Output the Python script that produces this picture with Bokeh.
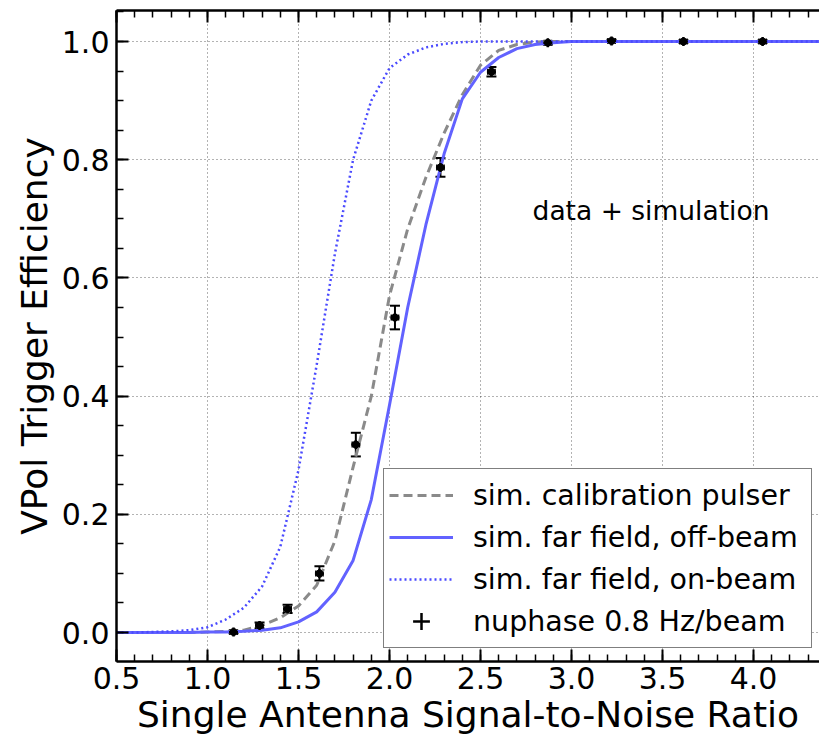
from bokeh.plotting import figure
from bokeh.models import (Range1d, SingleIntervalTicker, LinearAxis, PrintfTickFormatter,
                          Whisker, TeeHead, ColumnDataSource, Legend, LegendItem, Label,
                          CustomLabelingPolicy)
from bokeh.embed import file_html
from bokeh.resources import INLINE

# ---- data ----
snr_sim = [0.5, 0.6, 0.7, 0.8, 0.9, 1.0, 1.1, 1.2, 1.3, 1.4, 1.5, 1.6, 1.7, 1.8, 1.9,
           2.0, 2.1, 2.2, 2.3, 2.4, 2.5, 2.6, 2.7, 2.8, 2.9, 3.0, 3.2, 3.4, 3.6, 3.8,
           4.0, 4.2, 4.4]
calib_pulser = [0.0, 0.0, 0.0, 0.0, 0.0, 0.001, 0.002, 0.004, 0.012, 0.025, 0.045, 0.08,
                0.155, 0.28, 0.40, 0.57, 0.683, 0.77, 0.845, 0.91, 0.96, 0.985, 0.995,
                0.999, 1.0, 1.0, 1.0, 1.0, 1.0, 1.0, 1.0, 1.0, 1.0]
off_beam = [0.0, 0.0, 0.0, 0.0, 0.0, 0.001, 0.001, 0.002, 0.004, 0.008, 0.018, 0.035,
            0.068, 0.122, 0.225, 0.385, 0.55, 0.69, 0.81, 0.903, 0.948, 0.973, 0.988,
            0.995, 0.998, 1.0, 1.0, 1.0, 1.0, 1.0, 1.0, 1.0, 1.0]
on_beam = [0.0, 0.0, 0.001, 0.002, 0.004, 0.009, 0.022, 0.042, 0.078, 0.145, 0.275, 0.453,
           0.641, 0.80, 0.90, 0.955, 0.978, 0.99, 0.996, 0.999, 1.0, 1.0, 1.0, 1.0, 1.0,
           1.0, 1.0, 1.0, 1.0, 1.0, 1.0, 1.0, 1.0]

data_snr = [1.143, 1.286, 1.44, 1.615, 1.815, 2.03, 2.28, 2.56, 2.87, 3.22, 3.615, 4.05]
data_eff = [0.001, 0.012, 0.040, 0.100, 0.318, 0.533, 0.787, 0.949, 0.998, 1.001, 1.0, 1.0]
eff_err = [0.002, 0.005, 0.007, 0.012, 0.020, 0.020, 0.016, 0.008, 0.003, 0.002, 0.002, 0.002]
snr_err = [0.02, 0.02, 0.02, 0.02, 0.02, 0.02, 0.02, 0.02, 0.02, 0.02, 0.02, 0.02]

legend_labels = ["sim. calibration pulser", "sim. far field, off-beam",
                 "sim. far field, on-beam", "nuphase 0.8 Hz/beam"]
x_label = "Single Antenna Signal-to-Noise Ratio"
y_label = "VPol Trigger Efficiency"
note = "data + simulation"

FONT = "DejaVu Sans"

p = figure(width=819, height=741, output_backend="svg", toolbar_location=None,
           x_range=Range1d(0.5, 4.3626), y_range=Range1d(-0.049, 1.0525),
           min_border_left=116, min_border_right=0, min_border_top=10, min_border_bottom=80,
           x_axis_label=x_label, y_axis_label=y_label)
p.outline_line_color = None
p.background_fill_color = "white"
p.border_fill_color = "white"

xticker = SingleIntervalTicker(interval=0.5, num_minor_ticks=5)
yticker = SingleIntervalTicker(interval=0.2, num_minor_ticks=4)


def style_axis(ax, labels=True):
    ax.axis_line_width = 2.5
    ax.axis_line_color = "black"
    ax.major_tick_in = 12
    ax.major_tick_out = 0
    ax.minor_tick_in = 7
    ax.minor_tick_out = 0
    ax.major_tick_line_width = 2
    ax.minor_tick_line_width = 1.5
    ax.major_tick_line_color = "black"
    ax.minor_tick_line_color = "black"
    ax.major_label_text_font = FONT
    ax.major_label_text_color = "black"
    ax.axis_label_text_font = FONT
    ax.axis_label_text_font_style = "normal"
    ax.axis_label_text_color = "black"
    ax.axis_label_text_font_size = "36px"
    if labels:
        ax.major_label_text_font_size = "30px"
        ax.formatter = PrintfTickFormatter(format="%.1f")
    else:
        # decorative mirror axis: ticks only, every label filtered out
        ax.major_label_text_font_size = "0px"
        ax.major_label_standoff = 0
        ax.major_label_policy = CustomLabelingPolicy(
            code="for (const i of indices) { indices.unset(i) } return indices")


p.xaxis[0].ticker = xticker
p.yaxis[0].ticker = yticker
style_axis(p.xaxis[0])
style_axis(p.yaxis[0])
p.xaxis[0].major_label_standoff = 5
p.yaxis[0].major_label_standoff = 7
p.xaxis[0].axis_label_standoff = 2
p.yaxis[0].axis_label_standoff = 4

top = LinearAxis(ticker=xticker)
style_axis(top, labels=False)
p.add_layout(top, "above")

p.xgrid.ticker = xticker
p.ygrid.ticker = yticker
for g in (p.xgrid, p.ygrid):
    g.grid_line_color = "black"
    g.grid_line_alpha = 0.6
    g.grid_line_dash = "1 3"
    g.grid_line_width = 1

r_calib = p.line(snr_sim, calib_pulser, line_color="#8a8a8a", line_width=3, line_dash="9 5")
r_off = p.line(snr_sim, off_beam, line_color="#6262ff", line_width=3)
r_on = p.line(snr_sim, on_beam, line_color="#4a4aff", line_width=2.5, line_dash="2 3")

src = ColumnDataSource(dict(
    x=data_snr, y=data_eff,
    ylo=[v - e for v, e in zip(data_eff, eff_err)],
    yhi=[v + e for v, e in zip(data_eff, eff_err)],
    xlo=[v - e for v, e in zip(data_snr, snr_err)],
    xhi=[v + e for v, e in zip(data_snr, snr_err)],
))
p.add_layout(Whisker(source=src, base="x", lower="ylo", upper="yhi", dimension="height",
                     line_color="black", line_width=2,
                     lower_head=TeeHead(size=10, line_width=2, line_color="black"),
                     upper_head=TeeHead(size=10, line_width=2, line_color="black")))
p.add_layout(Whisker(source=src, base="y", lower="xlo", upper="xhi", dimension="width",
                     line_color="black", line_width=1.5,
                     lower_head=TeeHead(size=6, line_width=1.5, line_color="black"),
                     upper_head=TeeHead(size=6, line_width=1.5, line_color="black")))
p.scatter("x", "y", source=src, marker="circle", size=7, fill_color="black", line_color="black")
r_data = p.scatter("x", "y", source=src, marker="cross", size=9, line_color="black",
                   line_width=2.5)

p.add_layout(Label(x=2.786, y=0.714, text=note, text_font=FONT, text_font_size="26.5px",
                   text_baseline="middle", text_align="left", text_color="black"))

legend = Legend(items=[LegendItem(label=legend_labels[0], renderers=[r_calib]),
                       LegendItem(label=legend_labels[1], renderers=[r_off]),
                       LegendItem(label=legend_labels[2], renderers=[r_on]),
                       LegendItem(label=legend_labels[3], renderers=[r_data])],
                location=(267, 13), padding=5, spacing=0, margin=0,
                glyph_width=64, glyph_height=42, label_height=42, label_standoff=20,
                label_width=333,
                label_text_font=FONT, label_text_font_size="28.5px", label_text_color="black",
                border_line_color="black", border_line_width=1.5,
                background_fill_color="white", background_fill_alpha=1.0)
p.add_layout(legend, "center")

open("out.html", "w").write(file_html(p, INLINE))
